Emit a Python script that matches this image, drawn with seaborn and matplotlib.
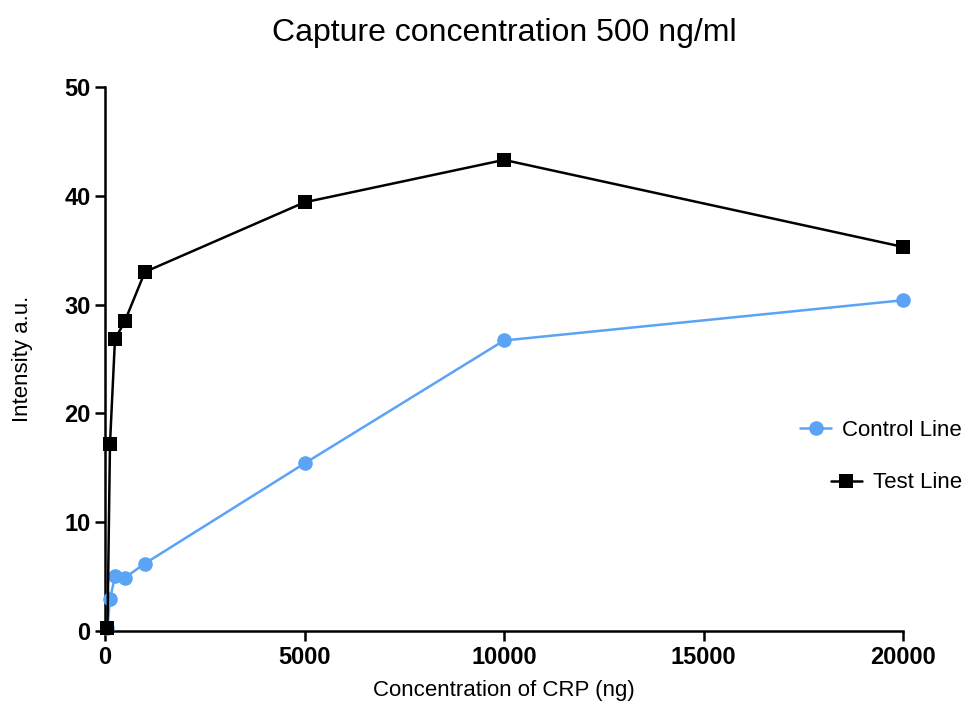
import matplotlib
matplotlib.use("Agg")
import matplotlib.pyplot as plt
import seaborn as sns
import pandas as pd

conc = [62.5, 125, 250, 500, 1000, 5000, 10000, 20000]
control = [0.3, 2.9, 5.05, 4.9, 6.2, 15.4, 26.7, 30.4]
test = [0.3, 17.2, 26.8, 28.5, 33.0, 39.4, 43.3, 35.3]
series_names = ["Control Line", "Test Line"]
colors = ["#5aa3f5", "#000000"]
markers = ["o", "s"]

sns.set_theme(style="ticks")
plt.rcParams["font.family"] = ["Liberation Sans", "DejaVu Sans"]

fig = plt.figure(figsize=(9.65, 7.05), dpi=100)
ax = fig.add_axes([0.1088, 0.105, 0.827, 0.7716])

handles = []
for name, vals, c, m in zip(series_names, [control, test], colors, markers):
    df = pd.DataFrame({"x": conc, "y": vals})
    sns.lineplot(data=df, x="x", y="y", ax=ax, color=c, marker=m,
                 markersize=10.5, markeredgewidth=0, linewidth=1.8, clip_on=False,
                 zorder=3)
    handles.append(ax.lines[-1])

ax.set_xlim(0, 20000)
ax.set_ylim(0, 50)
ax.set_xticks([0, 5000, 10000, 15000, 20000])
ax.set_yticks([0, 10, 20, 30, 40, 50])
sns.despine(ax=ax)
for s in ["left", "bottom"]:
    ax.spines[s].set_linewidth(1.8)
    ax.spines[s].set_color("black")
ax.tick_params(axis="both", direction="out", length=7, width=1.8, colors="black",
               labelsize=17)
for lab in ax.get_xticklabels() + ax.get_yticklabels():
    lab.set_fontweight("bold")

ax.set_xlabel("Concentration of CRP (ng)", fontsize=16, labelpad=8, color="black")
ax.set_ylabel("Intensity a.u.", fontsize=16, labelpad=22, color="black")
ax.set_title("Capture concentration 500 ng/ml", fontsize=23, pad=33, color="black")

common = dict(loc="center right", bbox_transform=fig.transFigure, frameon=False,
              fontsize=16, handlelength=1.4, handletextpad=0.5,
              borderaxespad=0, borderpad=0, labelcolor="black")
leg1 = ax.legend([handles[0]], [series_names[0]],
                 bbox_to_anchor=(962 / 965, 1 - 430 / 705), **common)
ax.add_artist(leg1)
leg2 = ax.legend([handles[1]], [series_names[1]],
                 bbox_to_anchor=(962 / 965, 1 - 483 / 705), **common)

fig.savefig("out.png", dpi=100)
